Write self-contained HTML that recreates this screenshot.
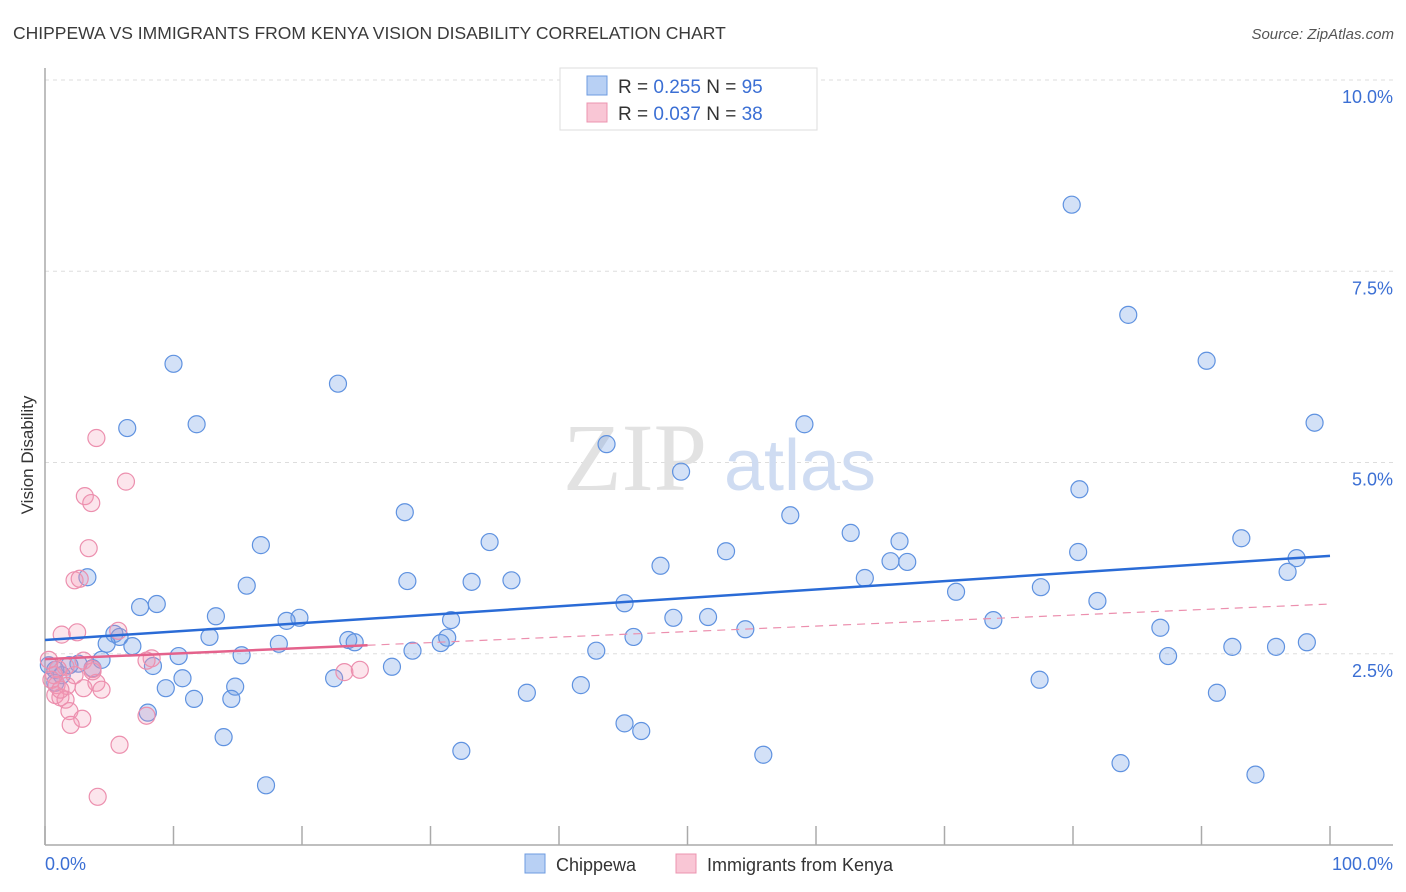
<!DOCTYPE html>
<html><head><meta charset="utf-8"><style>
body{margin:0;background:#fff;font-family:"Liberation Sans",sans-serif}
</style></head><body>
<svg id="chart" width="1406" height="892" xmlns="http://www.w3.org/2000/svg" style="display:block">
<text x="13" y="39" font-size="17.5" fill="#3a3a3a">CHIPPEWA VS IMMIGRANTS FROM KENYA VISION DISABILITY CORRELATION CHART</text>
<text x="1394" y="39" font-size="15" fill="#555" font-style="italic" text-anchor="end">Source: ZipAtlas.com</text>
<g id="grid"></g>
<g>
<text x="635" y="490" font-size="96" font-family="Liberation Serif,serif" fill="#e2e2e2" text-anchor="middle">ZIP</text>
<text x="800" y="490" font-size="72" fill="#cfdcf2" text-anchor="middle">atlas</text>
</g>
<line x1="45" y1="68" x2="45" y2="845" stroke="#aaa" stroke-width="1.5"/>
<line x1="45" y1="845" x2="1393" y2="845" stroke="#aaa" stroke-width="1.5"/>
<g id="ticks"></g>
<g id="points"></g>
<g id="trends"></g>
<text transform="translate(33,455) rotate(-90)" font-size="17" fill="#333" text-anchor="middle">Vision Disability</text>
<text x="45" y="870" font-size="18" fill="#3b6fd4">0.0%</text>
<text x="1393" y="870" font-size="18" fill="#3b6fd4" text-anchor="end">100.0%</text>
<g>
<rect x="560" y="68" width="257" height="62" fill="#fff" stroke="#ddd"/>
<rect x="587" y="76" width="20" height="19" fill="#b8d0f4" stroke="#6e9be0"/>
<rect x="587" y="103" width="20" height="19" fill="#f9c6d5" stroke="#ec94b0"/>
<text x="618" y="93" font-size="19" fill="#333">R = <tspan fill="#3b6fd4">0.255</tspan>   N = <tspan fill="#3b6fd4">95</tspan></text>
<text x="618" y="120" font-size="19" fill="#333">R = <tspan fill="#3b6fd4">0.037</tspan>   N = <tspan fill="#3b6fd4">38</tspan></text>
</g>
<g>
<rect x="525" y="854" width="20" height="19" fill="#b8d0f4" stroke="#6e9be0"/>
<text x="556" y="871" font-size="18" fill="#333">Chippewa</text>
<rect x="676" y="854" width="20" height="19" fill="#f9c6d5" stroke="#ec94b0"/>
<text x="707" y="871" font-size="18" fill="#333">Immigrants from Kenya</text>
</g>
</svg>
<script>
const blueX=[79.9,84.3,90.4,98.8,10.0,22.8,6.4,11.8,59.1,43.7,49.5,80.5,28.0,58.0,62.7,66.5,93.1,34.6,16.8,53.0,80.4,97.4,47.9,65.8,67.1,96.7,3.3,63.8,28.2,33.2,36.3,15.7,77.5,70.9,7.4,8.7,81.9,45.1,13.3,19.8,18.8,31.6,48.9,51.6,73.8,54.5,86.8,5.4,12.8,45.8,5.8,31.3,30.8,23.6,24.1,18.2,4.8,6.8,98.2,92.4,95.8,42.9,28.6,10.4,15.3,87.4,4.4,1.9,2.6,3.7,8.4,27.0,10.7,22.5,77.4,1.3,0.8,9.4,14.8,41.7,37.5,91.2,11.6,14.5,8.0,45.1,46.4,13.9,32.4,55.9,83.7,94.2,17.2,0.8,0.3];
const blueY=[8.37,6.93,6.33,5.52,6.29,6.03,5.45,5.50,5.50,5.24,4.88,4.65,4.35,4.31,4.08,3.97,4.01,3.96,3.92,3.84,3.83,3.75,3.65,3.71,3.70,3.57,3.50,3.49,3.45,3.44,3.46,3.39,3.37,3.31,3.11,3.15,3.19,3.16,2.99,2.97,2.93,2.94,2.97,2.98,2.94,2.82,2.84,2.76,2.72,2.72,2.72,2.71,2.64,2.68,2.65,2.63,2.63,2.60,2.65,2.59,2.59,2.54,2.54,2.47,2.48,2.47,2.42,2.35,2.37,2.31,2.34,2.33,2.18,2.18,2.16,2.22,2.12,2.05,2.07,2.09,1.99,1.99,1.91,1.91,1.73,1.59,1.49,1.41,1.23,1.18,1.07,0.92,0.78,2.29,2.35];
const pinkX=[4.0,6.3,3.1,3.6,3.4,2.3,2.7,1.3,2.5,5.7,8.3,3.0,1.6,3.7,1.0,0.7,2.3,4.0,0.9,1.7,4.4,0.8,1.2,3.0,1.6,1.9,2.9,2.0,7.9,5.8,4.1,23.3,24.5,0.3,0.5,1.2,3.7,7.9];
const pinkY=[5.32,4.75,4.56,4.47,3.88,3.46,3.48,2.75,2.78,2.80,2.44,2.41,2.33,2.27,2.30,2.22,2.22,2.12,2.09,2.08,2.03,1.96,1.93,2.05,1.90,1.75,1.65,1.57,1.69,1.31,0.63,2.26,2.29,2.42,2.16,2.03,2.30,2.41];
const yTicks=[2.5,5.0,7.5,10.0];
const yTickLabels=["2.5%","5.0%","7.5%","10.0%"];
const xTicks=[0,10,20,30,40,50,60,70,80,90,100];
const blueTrend=[2.68,3.78];
const pinkTrend=[2.43,3.15];
const pinkSolidEnd=25.1;

const NS="http://www.w3.org/2000/svg";
const sx=v=>45+v*12.85;
const sy=v=>845-v*76.5;
function mk(tag,attrs,parent){const e=document.createElementNS(NS,tag);for(const k in attrs)e.setAttribute(k,attrs[k]);parent.appendChild(e);return e;}
const grid=document.getElementById('grid');
yTicks.forEach((t,i)=>{
  const l=mk('line',{x1:45,x2:1393,y1:sy(t),y2:sy(t),stroke:'#ddd','stroke-dasharray':'4,4'},grid);
  
  
  const tx=mk('text',{x:1393,y:sy(t)+23,'font-size':18,fill:'#3b6fd4','text-anchor':'end'},grid);
  tx.textContent=yTickLabels[i];
  
  
});
const ticks=document.getElementById('ticks');
xTicks.forEach(t=>{
  const l=mk('line',{x1:sx(t),x2:sx(t),y1:826,y2:845,stroke:'#aaa','stroke-width':1.5},ticks);
  
  
});
const pts=document.getElementById('points');
blueX.forEach((x,i)=>{
  const c=mk('circle',{cx:sx(x),cy:sy(blueY[i]),r:8.5,fill:'rgba(110,155,230,0.3)',stroke:'#5f92e0','stroke-width':1.2},pts);
  
  
});
pinkX.forEach((x,i)=>{
  const c=mk('circle',{cx:sx(x),cy:sy(pinkY[i]),r:8.5,fill:'rgba(245,150,180,0.25)',stroke:'#ec8fae','stroke-width':1.2},pts);
  
  
});
const tr=document.getElementById('trends');
const bl=mk('line',{x1:sx(0),y1:sy(blueTrend[0]),x2:sx(100),y2:sy(blueTrend[1]),stroke:'#2a6bd6','stroke-width':2.5},tr);


const pAt=x=>pinkTrend[0]+(pinkTrend[1]-pinkTrend[0])*x/100;
const pd=mk('line',{x1:sx(pinkSolidEnd),y1:sy(pAt(pinkSolidEnd)),x2:sx(100),y2:sy(pinkTrend[1]),stroke:'#ec8fae','stroke-width':1.2,'stroke-dasharray':'8,6'},tr);


const ps=mk('line',{x1:sx(0),y1:sy(pinkTrend[0]),x2:sx(pinkSolidEnd),y2:sy(pAt(pinkSolidEnd)),stroke:'#e4628c','stroke-width':2.5},tr);


</script>
</body></html>
